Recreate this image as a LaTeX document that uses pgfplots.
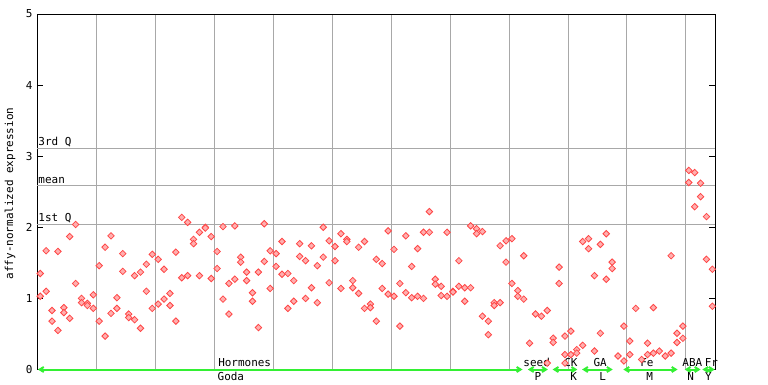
\documentclass[border=0pt]{standalone}
\usepackage{fontspec}
\setmainfont{DejaVu Sans Mono}
\usepackage{pgfplots}
\pgfplotsset{compat=1.18}
\usetikzlibrary{arrows.meta}
\definecolor{ptred}{RGB}{255,70,70}
\definecolor{ptfill}{RGB}{255,175,175}
\definecolor{gridgray}{RGB}{168,168,168}
\definecolor{grp}{RGB}{51,240,51}
\pgfplotstableread{
x y
0.5 1.35
0.5 1.03
1.5 1.67
1.5 1.10
2.5 0.83
2.5 0.68
3.5 1.66
3.5 0.55
4.5 0.87
4.5 0.80
5.5 1.87
5.5 0.72
6.5 2.04
6.5 1.21
7.5 1.00
7.5 0.94
8.5 0.93
8.5 0.90
9.5 1.05
9.5 0.86
10.5 1.46
10.5 0.68
11.5 1.72
11.5 0.47
12.5 1.88
12.5 0.79
13.5 1.01
13.5 0.86
14.5 1.63
14.5 1.38
15.5 0.78
15.5 0.73
16.5 1.32
16.5 0.70
17.5 1.37
17.5 0.58
18.5 1.48
18.5 1.10
19.5 1.62
19.5 0.86
20.5 1.55
20.5 0.92
21.5 1.41
21.5 0.99
22.5 1.07
22.5 0.90
23.5 1.65
23.5 0.68
24.5 2.14
24.5 1.29
25.5 2.07
25.5 1.32
26.5 1.83
26.5 1.77
27.5 1.93
27.5 1.32
28.5 2.00
28.5 1.99
29.5 1.87
29.5 1.28
30.5 1.66
30.5 1.42
31.5 2.01
31.5 0.99
32.5 1.21
32.5 0.78
33.5 2.02
33.5 1.27
34.5 1.58
34.5 1.51
35.5 1.37
35.5 1.25
36.5 1.08
36.5 0.96
37.5 1.37
37.5 0.59
38.5 2.05
38.5 1.52
39.5 1.67
39.5 1.14
40.5 1.63
40.5 1.45
41.5 1.80
41.5 1.34
42.5 1.35
42.5 0.86
43.5 1.25
43.5 0.96
44.5 1.77
44.5 1.59
45.5 1.53
45.5 1.00
46.5 1.74
46.5 1.15
47.5 1.46
47.5 0.94
48.5 2.00
48.5 1.58
49.5 1.81
49.5 1.22
50.5 1.73
50.5 1.53
51.5 1.91
51.5 1.14
52.5 1.83
52.5 1.80
53.5 1.25
53.5 1.15
54.5 1.72
54.5 1.07
55.5 1.80
55.5 0.86
56.5 0.92
56.5 0.87
57.5 1.55
57.5 0.68
58.5 1.49
58.5 1.14
59.5 1.95
59.5 1.06
60.5 1.69
60.5 1.03
61.5 1.21
61.5 0.61
62.5 1.88
62.5 1.08
63.5 1.45
63.5 1.01
64.5 1.70
64.5 1.03
65.5 1.93
65.5 1.00
66.5 2.22
66.5 1.93
67.5 1.27
67.5 1.20
68.5 1.17
68.5 1.04
69.5 1.93
69.5 1.03
70.5 1.10
70.5 1.09
71.5 1.53
71.5 1.17
72.5 1.15
72.5 0.96
73.5 2.02
73.5 1.15
74.5 1.98
74.5 1.91
75.5 1.94
75.5 0.75
76.5 0.68
76.5 0.49
77.5 0.94
77.5 0.90
78.5 1.74
78.5 0.94
79.5 1.81
79.5 1.51
80.5 1.84
80.5 1.21
81.5 1.11
81.5 1.03
82.5 1.60
82.5 0.99
83.5 0.37
84.5 0.78
85.5 0.75
86.5 0.83
86.5 0.09
87.5 0.44
87.5 0.38
88.5 1.44
88.5 1.21
89.5 0.47
89.5 0.21
89.5 0.09
90.5 0.54
90.5 0.21
91.5 0.28
91.5 0.23
92.5 1.80
92.5 0.34
93.5 1.84
93.5 1.70
94.5 1.32
94.5 0.26
95.5 1.76
95.5 0.51
96.5 1.91
96.5 1.27
97.5 1.51
97.5 1.42
98.5 0.19
99.5 0.61
99.5 0.12
100.5 0.40
100.5 0.21
101.5 0.86
102.5 0.14
103.5 0.37
103.5 0.21
104.5 0.87
104.5 0.23
105.5 0.26
106.5 0.19
107.5 1.60
107.5 0.23
108.5 0.51
108.5 0.38
109.5 0.61
109.5 0.44
110.5 2.80
110.5 2.63
111.5 2.77
111.5 2.29
112.5 2.62
112.5 2.43
113.5 2.15
113.5 1.55
114.5 1.41
114.5 0.89
}\samples
\begin{document}
\fontsize{11}{13}\selectfont
\begin{tikzpicture}[x=1bp,y=1bp]
\path[use as bounding box] (0,0) rectangle (768,384);
\begin{axis}[
  at={(37.3bp,14.5bp)}, anchor=south west,
  scale only axis, width=678bp, height=355.5bp,
  xmin=0, xmax=115, ymin=0, ymax=5,
  separate axis lines,
  x axis line style={draw=none},
  y axis line style={black, line width=1bp},
  xtick={10,20,...,110}, xticklabels={}, major x tick style={draw=none},
  xmajorgrids, grid style={gridgray, line width=0.8bp},
  ytick={0,1,2,3,4,5}, ytick pos=both, yticklabel pos=left,
  tick align=inside, major tick length=6bp,
  major y tick style={black, line width=1bp},
  /pgf/number format/assume math mode=true,
  yticklabel style={font=\fontsize{11}{11}\selectfont, xshift=-1bp},
  clip=false,
]
\draw[black, line width=1bp] (axis cs:0,5) -- (axis cs:115,5);
\draw[gridgray, line width=0.8bp] (axis cs:0,3.108) -- (axis cs:115,3.108);
\draw[gridgray, line width=0.8bp] (axis cs:0,2.59) -- (axis cs:115,2.59);
\draw[gridgray, line width=0.8bp] (axis cs:0,2.04) -- (axis cs:115,2.04);
\node[anchor=south west, inner sep=0pt, xshift=1bp, yshift=1.5bp] at (axis cs:0,3.108) {3rd Q};
\node[anchor=south west, inner sep=0pt, xshift=1bp, yshift=1.5bp] at (axis cs:0,2.59) {mean};
\node[anchor=south west, inner sep=0pt, xshift=1bp, yshift=1.5bp] at (axis cs:0,2.04) {1st Q};
\addplot[only marks, mark=square*, mark size=2.3bp,
  mark options={rotate=45, draw=ptred, fill=ptfill, line width=0.8bp}] table[x=x,y=y] {\samples};
% group arrows
\draw[grp, line width=2bp, {Straight Barb[length=4bp,width=5bp]}-{Straight Barb[length=4bp,width=5bp]}] (axis cs:0.1,0) -- (axis cs:82.3,0);
\draw[grp, line width=2bp, {Straight Barb[length=4bp,width=5bp]}-{Straight Barb[length=4bp,width=5bp]}] (axis cs:83.2,0) -- (axis cs:86.6,0);
\draw[grp, line width=2bp, {Straight Barb[length=4bp,width=5bp]}-{Straight Barb[length=4bp,width=5bp]}] (axis cs:87.4,0) -- (axis cs:91.6,0);
\draw[grp, line width=2bp, {Straight Barb[length=4bp,width=5bp]}-{Straight Barb[length=4bp,width=5bp]}] (axis cs:92.4,0) -- (axis cs:97.6,0);
\draw[grp, line width=2bp, {Straight Barb[length=4bp,width=5bp]}-{Straight Barb[length=4bp,width=5bp]}] (axis cs:99.4,0) -- (axis cs:108.6,0);
\draw[grp, line width=2bp, {Straight Barb[length=4bp,width=5bp]}-{Straight Barb[length=4bp,width=5bp]}] (axis cs:109.8,0) -- (axis cs:112.5,0);
\draw[grp, line width=2bp, {Straight Barb[length=4bp,width=5bp]}-{Straight Barb[length=4bp,width=5bp]}] (axis cs:112.8,0) -- (axis cs:114.9,0);
% group labels
\node[anchor=base, inner sep=0pt] at (axis cs:35.17,0.04) {Hormones};
\node[anchor=base, inner sep=0pt] at (axis cs:32.83,-0.16) {Goda};
\node[anchor=base, inner sep=0pt] at (axis cs:84.7,0.04) {seed};
\node[anchor=base, inner sep=0pt] at (axis cs:84.9,-0.16) {P};
\node[anchor=base, inner sep=0pt] at (axis cs:90.5,0.04) {CK};
\node[anchor=base, inner sep=0pt] at (axis cs:90.97,-0.16) {K};
\node[anchor=base, inner sep=0pt] at (axis cs:95.46,0.04) {GA};
\node[anchor=base, inner sep=0pt] at (axis cs:95.88,-0.16) {L};
\node[anchor=base, inner sep=0pt] at (axis cs:103.4,0.04) {Fe};
\node[anchor=base, inner sep=0pt] at (axis cs:103.85,-0.16) {M};
\node[anchor=base, inner sep=0pt] at (axis cs:111.1,0.04) {ABA};
\node[anchor=base, inner sep=0pt] at (axis cs:110.8,-0.16) {N};
\node[anchor=base, inner sep=0pt] at (axis cs:114.35,0.04) {Fr};
\node[anchor=base, inner sep=0pt] at (axis cs:113.85,-0.16) {Y};
\end{axis}
\node[rotate=90, inner sep=0pt] at (10,190.5) {affy-normalized expression};
\end{tikzpicture}
\end{document}
